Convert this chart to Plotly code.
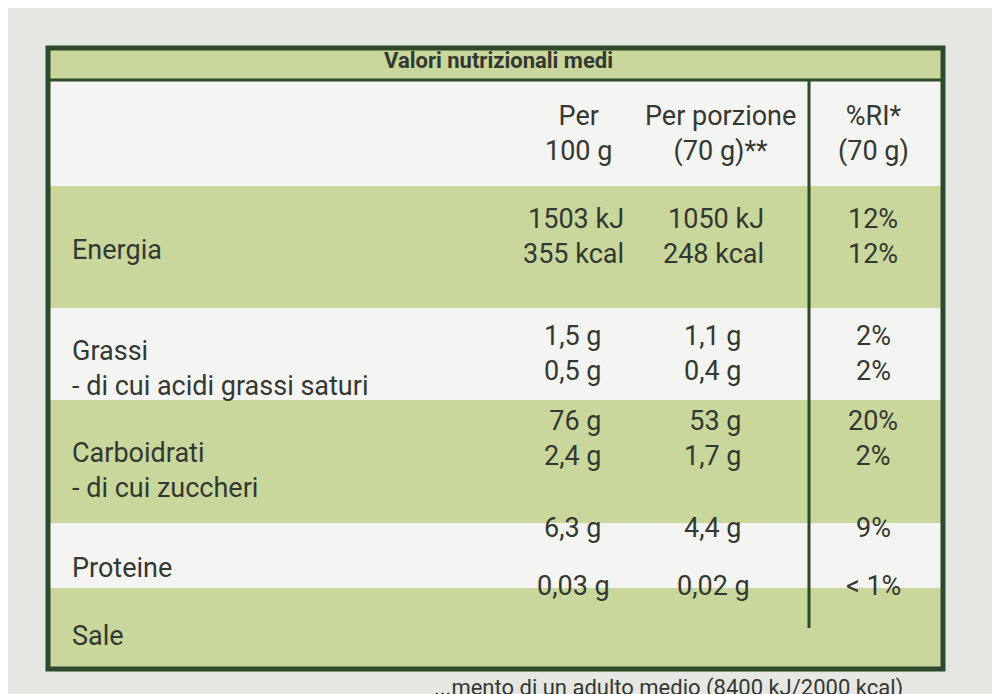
import plotly.graph_objects as go

title = "Valori nutrizionali medi"
col_headers = ["Per<br>100 g", "Per porzione<br>(70 g)**", "%RI*<br>(70 g)"]
row_labels = ["Energia", "Grassi<br>- di cui acidi grassi saturi", "Carboidrati<br>- di cui zuccheri", "Proteine", "Sale"]
per100 = ["1503 kJ<br>355 kcal", "1,5 g<br>0,5 g", "76 g<br>2,4 g", "6,3 g", "0,03 g"]
perporz = ["1050 kJ<br>248 kcal", "1,1 g<br>0,4 g", "53 g<br>1,7 g", "4,4 g", "0,02 g"]
ri = ["12%<br>12%", "2%<br>2%", "20%<br>2%", "9%", "< 1%"]
footer = "...mento di un adulto medio (8400 kJ/2000 kcal)"

band_tops = [178, 300, 392, 515, 580]
band_bots = [300, 392, 515, 580, 660]
band_fill = ["#c9d79c", "#f4f4f2", "#c9d79c", "#f4f4f2", "#c9d79c"]
label_y = [242, 360, 462, 560, 628]
value_y = [228, 345, 430, 520, 578]

green = "#c9d79c"
dark = "#2f4a2a"
txt = "#343832"
font = "Liberation Sans Narrow, Roboto, Arial Narrow, sans-serif"

fig = go.Figure()
shapes = []
L, R, T, B = 40, 935, 40, 661
shapes.append(dict(type="rect", x0=L, x1=R, y0=T, y1=B, fillcolor="#f4f4f2", line_width=0, layer="below"))
shapes.append(dict(type="rect", x0=L, x1=R, y0=T, y1=72, fillcolor=green, line_width=0, layer="below"))
for t, b, c in zip(band_tops, band_bots, band_fill):
    shapes.append(dict(type="rect", x0=L, x1=R, y0=t, y1=b, fillcolor=c, line_width=0, layer="below"))
shapes.append(dict(type="line", x0=L, x1=R, y0=72, y1=72, line=dict(color=dark, width=3)))
shapes.append(dict(type="line", x0=801, x1=801, y0=72, y1=620, line=dict(color=dark, width=3)))
shapes.append(dict(type="rect", x0=L, x1=R, y0=T, y1=B, line=dict(color=dark, width=5)))

ann = []
ann.append(dict(x=490, y=52, text="<b>" + title + "</b>", font=dict(size=22, color=txt, family=font)))
for x, h in zip([570, 712, 865], col_headers):
    ann.append(dict(x=x, y=125, text=h, font=dict(size=27, color=txt, family=font)))
for y, l in zip(label_y, row_labels):
    ann.append(dict(x=62, y=y, text=l, xanchor="left", align="left", font=dict(size=27, color=txt, family=font)))
for i in range(len(row_labels)):
    y = value_y[i]
    ann.append(dict(x=565, y=y, text=per100[i], align="right", font=dict(size=27, color=txt, family=font)))
    ann.append(dict(x=705, y=y, text=perporz[i], align="right", font=dict(size=27, color=txt, family=font)))
    ann.append(dict(x=865, y=y, text=ri[i], align="center", font=dict(size=27, color=txt, family=font)))
ann.append(dict(x=660, y=680, text=footer, font=dict(size=22, color=txt, family=font)))
for a in ann:
    a.update(xref="x", yref="y", showarrow=False)
    a.setdefault("yanchor", "middle")

fig.update_layout(
    width=1000, height=694, margin=dict(l=0, r=0, t=0, b=0),
    paper_bgcolor="#e6e7e3", plot_bgcolor="#e6e7e3",
    xaxis=dict(range=[0, 1000], visible=False),
    yaxis=dict(range=[694, 0], visible=False),
    shapes=shapes, annotations=ann, showlegend=False,
)
fig.write_html("out.html")
